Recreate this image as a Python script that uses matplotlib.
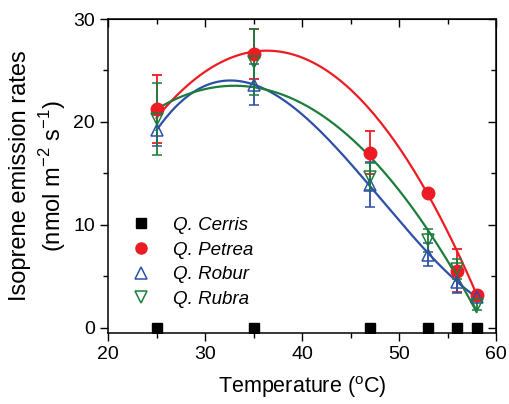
import numpy as np
import matplotlib
matplotlib.use("Agg")
import matplotlib.pyplot as plt
from matplotlib.ticker import MultipleLocator
from matplotlib.lines import Line2D

plt.rcParams['font.family'] = ['Liberation Sans', 'DejaVu Sans']
plt.rcParams['mathtext.fontset'] = 'custom'
plt.rcParams['mathtext.rm'] = 'Liberation Sans'

temps = [25, 35, 47, 53, 56, 58]
cerris = [0, 0, 0, 0, 0, 0]
petrea = [21.3, 26.6, 17.0, 13.1, 5.55, 3.2]
petrea_err = [3.3, 2.4, 2.1, 0.3, 2.1, 0.3]
robur = [19.2, 23.6, 13.9, 7.1, 4.5, 3.0]
robur_err = [1.5, 2.0, 2.2, 1.1, 1.1, 0.4]
rubra = [20.3, 25.8, 14.7, 8.5, 5.7, 2.2]
rubra_err = [3.5, 3.2, 1.3, 1.1, 1.0, 0.5]

species = ['Q. Cerris', 'Q. Petrea', 'Q. Robur', 'Q. Rubra']
c_red = '#ED1C24'
c_blue = '#2E4FA8'
c_green = '#1C7D3C'

fig = plt.figure(figsize=(5.09, 4.04), dpi=100)
ax = fig.add_axes([108/509, 1-333/404, (496-108)/509, (333-19)/404])

# polynomial fit curves computed from the data
xf = np.linspace(25, 58, 200)
fits = [
    (petrea, np.polyfit(temps, petrea, 2, w=1/np.array(petrea_err)), c_red),
    (robur, np.polyfit(temps, robur, 3), c_blue),
    (rubra, np.polyfit(temps, rubra, 2), c_green),
]
for vals, p, col in fits:
    ax.plot(xf, np.polyval(p, xf), color=col, lw=1.6, zorder=2)

ax.plot(temps, cerris, 's', color='black', ms=6.5, zorder=4)
ax.errorbar(temps, petrea, yerr=petrea_err, fmt='o', color=c_red, ms=9,
            capsize=3.5, elinewidth=1.3, capthick=1.3, zorder=3)
ax.errorbar(temps, robur, yerr=robur_err, fmt='^', color=c_blue, mfc='none',
            ms=9, mew=1.1, capsize=3.5, elinewidth=1.3, capthick=1.3, zorder=3)
ax.errorbar(temps, rubra, yerr=rubra_err, fmt='v', color=c_green, mfc='none',
            ms=9, mew=1.1, capsize=3.5, elinewidth=1.3, capthick=1.3, zorder=3)

ax.set_xlim(20, 60)
ax.set_ylim(-0.5, 30)
ax.xaxis.set_major_locator(MultipleLocator(10))
ax.xaxis.set_minor_locator(MultipleLocator(5))
ax.yaxis.set_major_locator(MultipleLocator(10))
ax.yaxis.set_minor_locator(MultipleLocator(5))
ax.tick_params(which='both', direction='out', labelsize=14, width=1)
ax.tick_params(which='major', length=6)
ax.tick_params(which='minor', length=3.5)
ax.tick_params(which='both', top=False, right=False)
for s in ax.spines.values():
    s.set_linewidth(1.1)

# inward ticks on top and right
axt = ax.secondary_xaxis('top')
axt.xaxis.set_major_locator(MultipleLocator(10))
axt.xaxis.set_minor_locator(MultipleLocator(5))
axt.tick_params(which='both', direction='in', labeltop=False, width=1)
axt.tick_params(which='major', length=6)
axt.tick_params(which='minor', length=3.5)
axr = ax.secondary_yaxis('right')
axr.yaxis.set_major_locator(MultipleLocator(10))
axr.yaxis.set_minor_locator(MultipleLocator(5))
axr.tick_params(which='both', direction='in', labelright=False, width=1)
axr.tick_params(which='major', length=6)
axr.tick_params(which='minor', length=3.5)

ax.set_xlabel('Temperature ($^{\\mathrm{o}}$C)', fontsize=15.5, labelpad=8)
ax.set_ylabel('Isoprene emission rates\n(nmol m$^{\\mathrm{-2}}$ s$^{\\mathrm{-1}}$)', fontsize=17,
              labelpad=4, linespacing=1.25)

handles = [
    Line2D([], [], ls='none', marker='s', color='black', ms=6.5),
    Line2D([], [], ls='none', marker='o', color=c_red, ms=8),
    Line2D([], [], ls='none', marker='^', color=c_blue, mfc='none', ms=8, mew=1.1),
    Line2D([], [], ls='none', marker='v', color=c_green, mfc='none', ms=8, mew=1.1),
]
leg = ax.legend(handles, species, loc='upper left', frameon=False,
                bbox_to_anchor=(110/509, 1-200/404), bbox_transform=fig.transFigure,
                prop={'style': 'italic', 'size': 13.5}, handletextpad=0.95,
                labelspacing=0.4, handlelength=1.5)

fig.savefig('out.png', dpi=100)
